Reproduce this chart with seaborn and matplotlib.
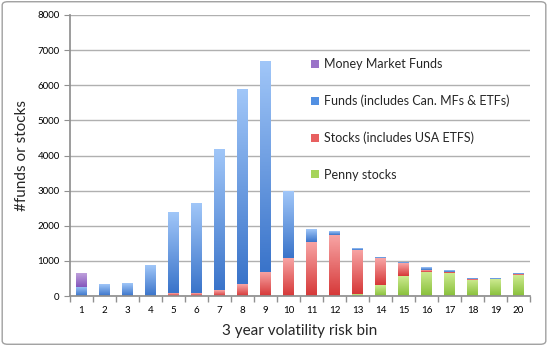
import numpy as np
import pandas as pd
import matplotlib
matplotlib.use("Agg")
import matplotlib.pyplot as plt
import seaborn as sns
from matplotlib.patches import FancyBboxPatch
from matplotlib.colors import LinearSegmentedColormap

bins = [str(i) for i in range(1, 21)]
money_market = [397, 0, 0, 0, 0, 0, 0, 0, 0, 0, 0, 0, 0, 0, 0, 0, 0, 0, 0, 0]
funds = [263, 340, 360, 860, 2280, 2560, 4000, 5540, 5985, 1880, 370, 95, 30, 20, 10, 60, 30, 20, 25, 5]
stocks = [0, 0, 8, 10, 76, 80, 160, 330, 688, 1090, 1550, 1737, 1275, 765, 368, 50, 35, 15, 5, 25]
penny = [0, 0, 0, 0, 0, 0, 0, 0, 0, 0, 0, 0, 48, 312, 567, 688, 652, 462, 482, 595]

labels = ["Money Market Funds", "Funds (includes Can. MFs & ETFs)",
          "Stocks (includes USA ETFS)", "Penny stocks"]
colors = ["#9a73c8", "#5290e2", "#e86060", "#a6d45a"]
grad_top = ["#bea0dc", "#a0c6f8", "#f8a6a6", "#cdea90"]
grad_bot = ["#8456bc", "#3a74ca", "#d63838", "#88c03a"]

sns.set_theme(style="white")
plt.rcParams['font.family'] = ['Lato', 'DejaVu Sans']

df = pd.DataFrame({"bin": bins, "mmf": money_market, "funds": funds,
                   "stocks": stocks, "penny": penny})
df["c_penny"] = df["penny"]
df["c_stocks"] = df["c_penny"] + df["stocks"]
df["c_funds"] = df["c_stocks"] + df["funds"]
df["c_mmf"] = df["c_funds"] + df["mmf"]
cols = ["c_mmf", "c_funds", "c_stocks", "c_penny"]

fig = plt.figure(figsize=(5.48, 3.46), dpi=100)
ax = fig.add_axes([70/548, 50/346, 460/548, 281/346])

for col, color, lab in zip(cols, colors, labels):
    sns.barplot(data=df, x="bin", y=col, color=color, ax=ax, width=0.45,
                saturation=1, label=lab, edgecolor="none")

ax.set_ylim(0, 8000)
ax.set_xlim(-0.5, 19.5)

# gradient fill for each stacked segment
for k, cont in enumerate(ax.containers):
    cmap = LinearSegmentedColormap.from_list("g%d" % k, [grad_bot[k], grad_top[k]])
    lower = df[cols[k + 1]].values if k + 1 < len(cols) else np.zeros(len(df))
    for i, p in enumerate(cont.patches):
        top = p.get_height()
        if top - lower[i] <= 0:
            continue
        x0 = p.get_x()
        ax.imshow(np.linspace(1, 0, 64).reshape(-1, 1), cmap=cmap, aspect="auto",
                  extent=(x0, x0 + p.get_width(), lower[i], top),
                  interpolation="bilinear", zorder=2.5 + 0.01 * (4 - k), vmin=0, vmax=1)

ax.set_ylim(0, 8000)
ax.set_xlim(-0.5, 19.5)
ax.set_yticks(range(0, 8001, 1000))
ax.yaxis.grid(True, color="#b0b0b0", linewidth=1)
ax.set_axisbelow(True)
for s in ["top", "right"]:
    ax.spines[s].set_visible(False)
for s in ["left", "bottom"]:
    ax.spines[s].set_color("#909090")
    ax.spines[s].set_zorder(3)
ax.tick_params(axis="both", labelsize=7, colors="#909090", labelcolor="black",
               length=4, width=0.8, direction="out", bottom=False, left=True)
ax.set_xticks(np.arange(-0.5, 20, 1), minor=True)
ax.tick_params(axis="x", which="minor", bottom=True, length=4, color="#909090")
ax.set_xlabel("3 year volatility risk bin", fontsize=11, labelpad=6)
ax.set_ylabel("#funds or stocks", fontsize=11, labelpad=6)

h, l = ax.get_legend_handles_labels()
ax.legend(h, l, loc="upper left", bbox_to_anchor=(0.5, 0.887), frameon=False,
          fontsize=9, labelspacing=1.96, handlelength=0.6, handleheight=0.6,
          handletextpad=0.4)

fig.patches.append(FancyBboxPatch((0.004, 0.005), 0.992, 0.99,
                                  boxstyle="round,pad=0,rounding_size=0.01",
                                  transform=fig.transFigure, fill=False,
                                  edgecolor="#a0a0a0", linewidth=1))
fig.savefig("out.png", dpi=100)
